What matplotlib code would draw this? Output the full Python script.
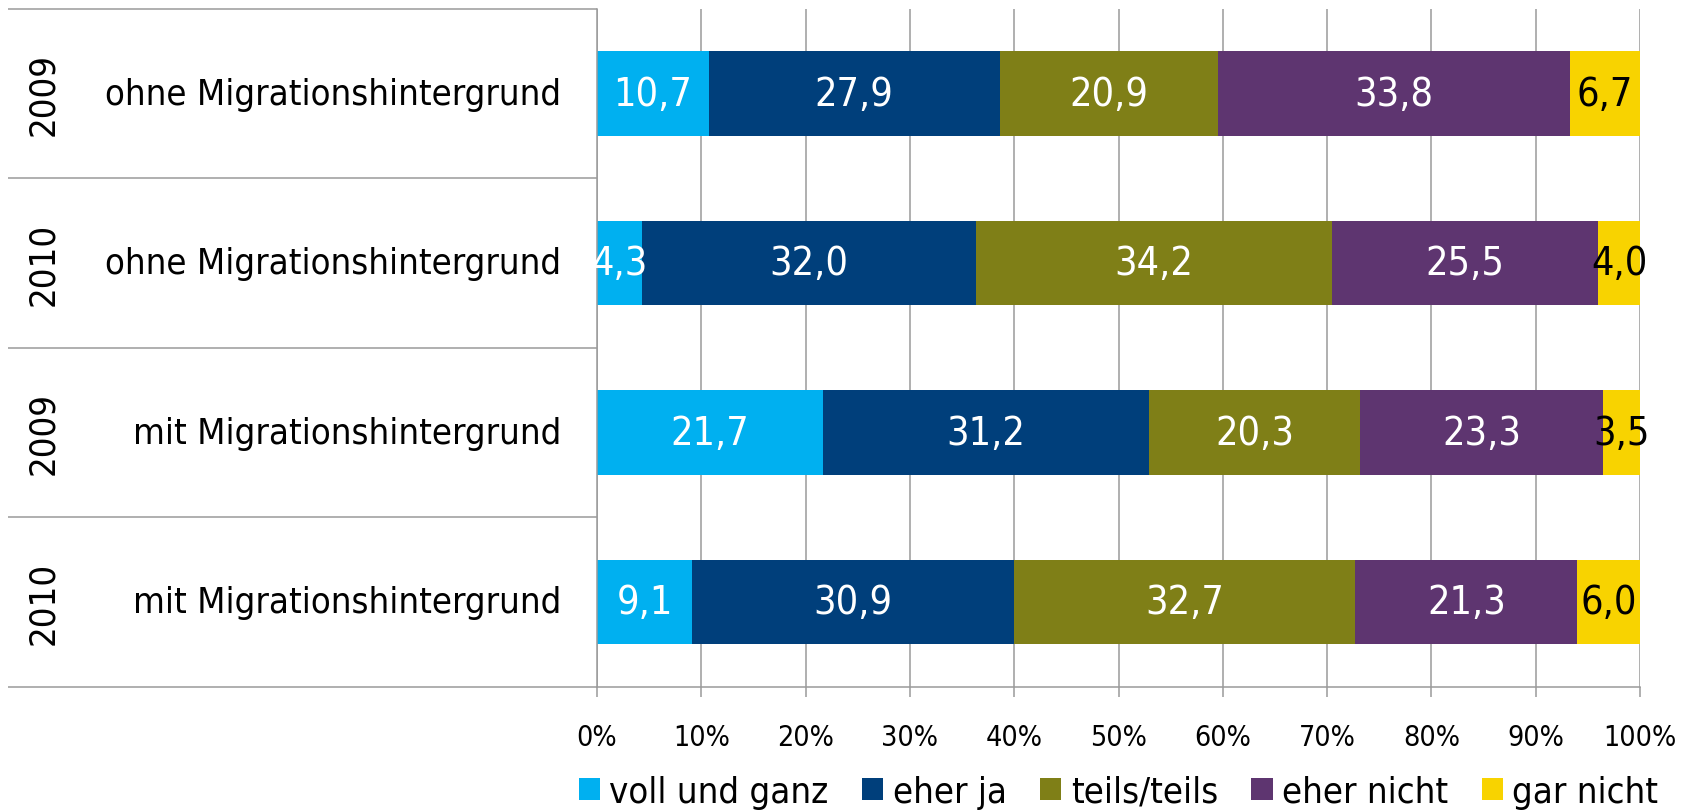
import matplotlib
matplotlib.use("Agg")
import matplotlib.pyplot as plt
from matplotlib import font_manager as fm
from matplotlib.textpath import TextPath
from matplotlib.patches import Patch

# ---------------- data ----------------
years = ["2009", "2010", "2009", "2010"]
groups = ["ohne Migrationshintergrund", "ohne Migrationshintergrund",
          "mit Migrationshintergrund", "mit Migrationshintergrund"]
series_names = ["voll und ganz", "eher ja", "teils/teils", "eher nicht", "gar nicht"]
voll_und_ganz = [10.7, 4.3, 21.7, 9.1]
eher_ja = [27.9, 32.0, 31.2, 30.9]
teils_teils = [20.9, 34.2, 20.3, 32.7]
eher_nicht = [33.8, 25.5, 23.3, 21.3]
gar_nicht = [6.7, 4.0, 3.5, 6.0]
x_ticks = [0, 10, 20, 30, 40, 50, 60, 70, 80, 90, 100]
x_tick_labels = ["0%", "10%", "20%", "30%", "40%", "50%", "60%", "70%", "80%", "90%", "100%"]

series_values = [voll_und_ganz, eher_ja, teils_teils, eher_nicht, gar_nicht]
colors = ["#00B0F0", "#003F7B", "#7F7F17", "#5E3570", "#F8D300"]
label_colors = ["white", "white", "white", "white", "black"]

# ---------------- fonts ----------------
def pick_font():
    for f in fm.fontManager.ttflist:
        if "DejaVuSansCondensed.ttf" in f.fname:
            return fm.FontProperties(fname=f.fname)
    names = {f.name for f in fm.fontManager.ttflist}
    if "Liberation Sans Narrow" in names:
        return fm.FontProperties(family="Liberation Sans Narrow")
    return fm.FontProperties(family="DejaVu Sans")

base_fp = pick_font()
DPI = 100

def fit_size(text, target_px):
    fp = base_fp.copy()
    fp.set_size(10)
    w = TextPath((0, 0), text, prop=fp).get_extents().width
    return 10 * target_px / (w * DPI / 72.0)

def fp_of(size):
    fp = base_fp.copy()
    fp.set_size(size)
    return fp

big = fit_size("ohne Migrationshintergrund", 452)
small = fit_size("100%", 69)
fp_big = fp_of(big)
fp_val = fp_of(big * 1.08)
fp_small = fp_of(small)

# ---------------- figure ----------------
W, H = 1693, 812
fig = plt.figure(figsize=(W / DPI, H / DPI), dpi=DPI)
ax_left, ax_right, ax_top, ax_bottom = 597, 1640, 10, 687.7
ax = fig.add_axes([ax_left / W, 1 - ax_bottom / H, (ax_right - ax_left) / W,
                   (ax_bottom - ax_top) / H])

grid_c = "#9A9A9A"
n = len(groups)
ypos = list(range(n))
lefts = [0.0] * n
for vals, c, lc in zip(series_values, colors, label_colors):
    ax.barh(ypos, vals, left=lefts, height=0.5, color=c, edgecolor="none", zorder=2)
    for i, v in enumerate(vals):
        ax.text(lefts[i] + v / 2, i, f"{v:.1f}".replace(".", ","), ha="center",
                va="center", color=lc, fontproperties=fp_val, zorder=3)
    lefts = [l + v for l, v in zip(lefts, vals)]

ax.set_xlim(0, 100)
ax.set_ylim(n - 0.5, -0.5)
ax.set_xticks(x_ticks)
ax.set_xticklabels(x_tick_labels, fontproperties=fp_small)
ax.set_yticks([])
ax.xaxis.grid(True, color=grid_c, linewidth=1.1, zorder=0)
ax.set_axisbelow(True)
ax.tick_params(axis="x", direction="out", length=7.2, width=1.1, color=grid_c,
               pad=19, labelcolor="black")
for s in ["top", "right"]:
    ax.spines[s].set_visible(False)
for s in ["left", "bottom"]:
    ax.spines[s].set_color(grid_c)
    ax.spines[s].set_linewidth(1.1)

# category table on the left
xa_left = (8 - ax_left) / (ax_right - ax_left)
ytr = ax.get_yaxis_transform()
for yb in [k - 0.5 for k in range(n + 1)]:
    ax.plot([xa_left, 0], [yb, yb], transform=ytr, color=grid_c, lw=1.1,
            clip_on=False, solid_capstyle="butt")

x_year = (43.5 - ax_left) / (ax_right - ax_left)
x_group = (561 - ax_left) / (ax_right - ax_left)
for i in range(n):
    ax.text(x_year, i, years[i], transform=ytr, rotation=90, ha="center",
            va="center", fontproperties=fp_big, color="black")
    ax.text(x_group, i, groups[i], transform=ytr, ha="right", va="center",
            fontproperties=fp_big, color="black")

# legend
handles = [Patch(facecolor=c, edgecolor="none") for c in colors]
fig.legend(handles, series_names, loc="center",
           bbox_to_anchor=((ax_left + ax_right) / 2 / W, 1 - 793 / H),
           ncol=5, frameon=False, prop=fp_big, handlelength=0.58,
           handleheight=0.58, handletextpad=0.26, columnspacing=0.92,
           borderpad=0, borderaxespad=0)

fig.savefig("out.png", dpi=DPI)
